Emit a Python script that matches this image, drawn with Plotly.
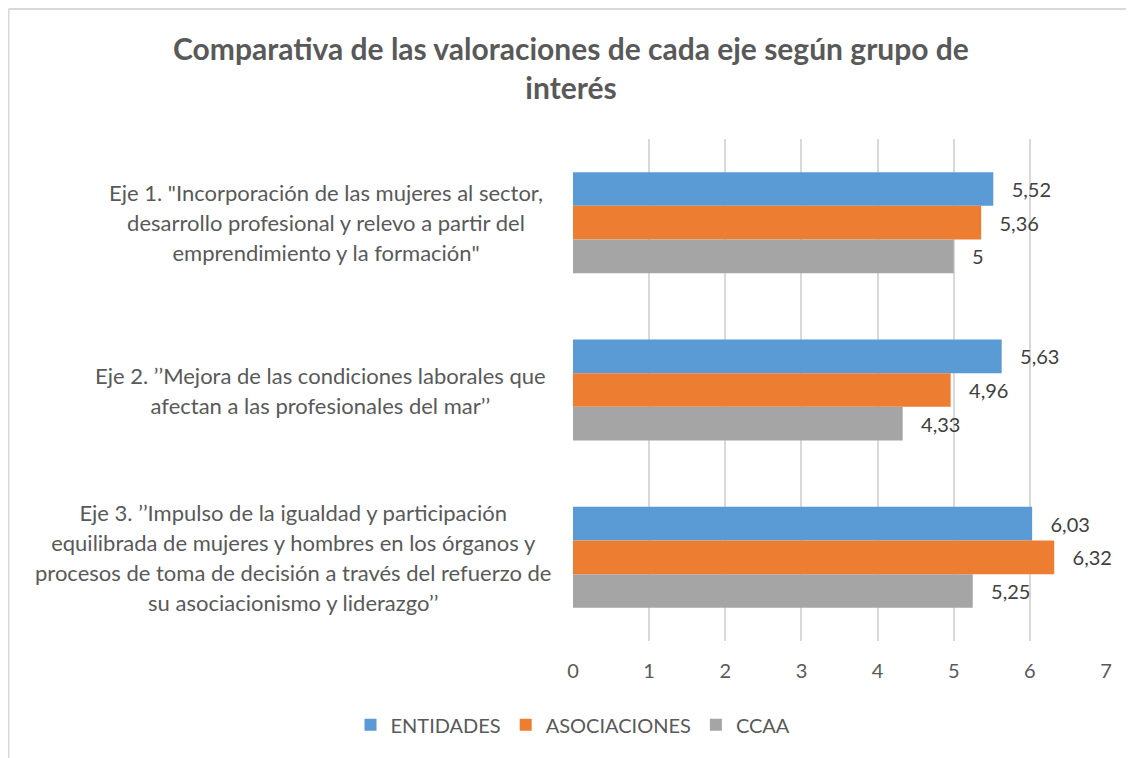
import plotly.graph_objects as go

categories = [
    'Eje 1. "Incorporación de las mujeres al sector,<br>desarrollo profesional y relevo a partir del<br>emprendimiento y la formación"',
    "Eje 2. ’’Mejora de las condiciones laborales que<br>afectan a las profesionales del mar’’",
    "Eje 3. ’’Impulso de la igualdad y participación<br>equilibrada de mujeres y hombres en los órganos y<br>procesos de toma de decisión a través del refuerzo de<br>su asociacionismo y liderazgo’’",
]
cat_keys = ["Eje 1", "Eje 2", "Eje 3"]
series_names = ["ENTIDADES", "ASOCIACIONES", "CCAA"]
entidades = [5.52, 5.63, 6.03]
asociaciones = [5.36, 4.96, 6.32]
ccaa = [5.0, 4.33, 5.25]
x_ticks = [0, 1, 2, 3, 4, 5, 6, 7]

colors = ["#5B9BD5", "#ED7D31", "#A5A5A5"]
FONT = "Lato, Carlito, Calibri, sans-serif"
PAD = "\u00a0\u00a0\u00a0"
label_centers = [-0.463, -0.473, -0.525]  # paper x of each label block centre


def fmt(v):
    s = f"{v:g}"
    return s.replace(".", ",")


fig = go.Figure()
for name, vals, col in zip(series_names, [entidades, asociaciones, ccaa], colors):
    fig.add_trace(go.Bar(
        name=name, y=cat_keys, x=vals, orientation="h",
        marker=dict(color=col, line=dict(width=0)),
        text=[PAD + fmt(v) for v in vals], textposition="outside",
        textfont=dict(size=20, color="#404040", family=FONT),
        cliponaxis=False,
    ))

for key, label, cx in zip(cat_keys, categories, label_centers):
    lines = label.split("<br>")
    txt = "<br>".join(f'<span style="font-size:22px">{l}</span>' for l in lines)
    fig.add_annotation(
        x=cx, xref="paper", xanchor="center",
        y=key, yref="y", yanchor="middle",
        text=txt, showarrow=False, align="center",
        font=dict(size=23, color="#595959", family=FONT),
    )

# chart border (top and left edges visible)
fig.add_shape(type="line", xref="paper", yref="paper",
              x0=-1.059, x1=1.1, y0=1.259, y1=1.259,
              line=dict(color="#D9D9D9", width=2))
fig.add_shape(type="line", xref="paper", yref="paper",
              x0=-1.059, x1=-1.059, y0=1.259, y1=-0.26,
              line=dict(color="#D9D9D9", width=2))

fig.update_layout(
    width=1126, height=750,
    paper_bgcolor="white", plot_bgcolor="white",
    margin=dict(l=565, r=28, t=131, b=117),
    barmode="group", bargap=0.396, bargroupgap=0,
    font=dict(family=FONT, color="#595959"),
    title=dict(
        text="<b>Comparativa de las valoraciones de cada eje según grupo de<br>interés</b>",
        x=0.5, xanchor="center", xref="container",
        y=1 - 52 / 750, yanchor="top", yref="container",
        font=dict(size=30, color="#595959", family=FONT),
    ),
    xaxis=dict(
        range=[0, 7], tickvals=x_ticks, ticktext=[str(t) for t in x_ticks],
        showgrid=True, gridcolor="#D9D9D9", gridwidth=1.5,
        zeroline=False, showline=False, ticks="",
        ticklabelstandoff=16,
        tickfont=dict(size=20, color="#595959", family=FONT),
    ),
    yaxis=dict(
        autorange="reversed", showticklabels=False, showgrid=False,
        zeroline=False, showline=False, ticks="",
    ),
    legend=dict(
        orientation="h", x=-0.0, xanchor="center", xref="paper",
        y=-0.167, yanchor="middle",
        font=dict(size=20, color="#595959", family=FONT),
        itemwidth=30, traceorder="normal",
    ),
    showlegend=True,
)

fig.write_html("out.html")
